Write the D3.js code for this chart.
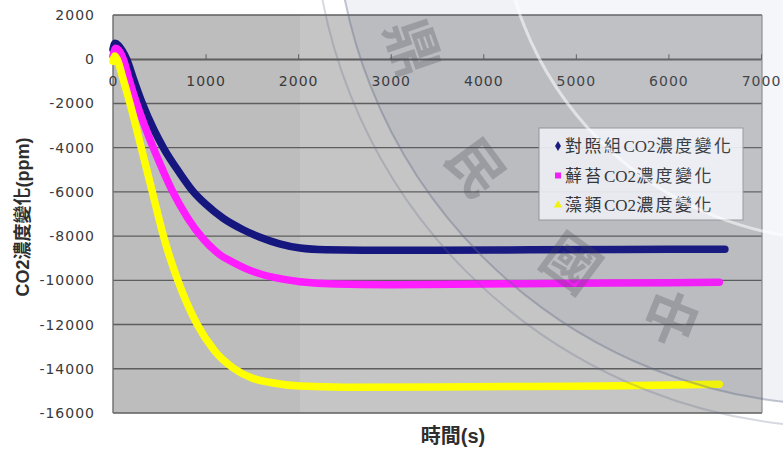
<!DOCTYPE html>
<html>
<head>
<meta charset="utf-8">
<script src="https://cdn.jsdelivr.net/npm/d3@7"></script>
<style>
  html, body { margin: 0; padding: 0; background: #ffffff; }
  svg { display: block; }
</style>
</head>
<body>
<svg id="chart" width="783" height="450"></svg>
<script>
// ---- data: CO2 change (ppm) over time (s) ----
const controlTime = [0, 22, 60, 100, 148, 230, 317, 443, 551, 713, 860, 1000, 1192, 1400, 1588, 1800, 2020, 2300, 2700, 3500, 4500, 5500, 6610];
const controlCO2  = [450, 720, 620, 380, 0, -1000, -2000, -3200, -4050, -5100, -5950, -6550, -7200, -7700, -8050, -8350, -8540, -8620, -8640, -8640, -8620, -8600, -8590];

const mossTime = [0, 30, 60, 112, 180, 256, 346, 425, 515, 634, 810, 980, 1100, 1174, 1250, 1480, 1750, 2020, 2400, 3000, 4000, 5000, 6000, 6550];
const mossCO2  = [150, 500, 420, 0, -1000, -2000, -3050, -3900, -4800, -5900, -7200, -8150, -8650, -8900, -9080, -9550, -9880, -10060, -10170, -10200, -10170, -10130, -10110, -10090];

const algaeTime = [0, 20, 45, 110, 184, 305, 425, 545, 700, 910, 1100, 1310, 1500, 1700, 2020, 2500, 3500, 4500, 5500, 6550];
const algaeCO2  = [-100, 150, 0, -900, -2000, -4000, -6000, -8000, -10000, -12000, -13200, -14000, -14420, -14620, -14780, -14830, -14820, -14800, -14770, -14700];

const seriesNames  = ["對照組CO2濃度變化", "蘚苔CO2濃度變化", "藻類CO2濃度變化"];
const seriesColors = ["#16167f", "#ff1cff", "#ffff00"];
const seriesSymbols = [d3.symbolDiamond, d3.symbolSquare, d3.symbolTriangle];

const xTicks = [0, 1000, 2000, 3000, 4000, 5000, 6000, 7000];
const yTicks = [2000, 0, -2000, -4000, -6000, -8000, -10000, -12000, -14000, -16000];
const xTitle = "時間(s)";
const yTitle = "CO2濃度變化(ppm)";
const sealChars = ["鼎", "民", "國", "中"];

// ---- layout ----
const box = { left: 113, right: 762, top: 15, bottom: 413 };
const svg = d3.select("#chart");

const x = d3.scaleLinear().domain([0, 7000]).range([113, 761]);
const y = d3.scaleLinear().domain([-16000, 2000]).range([box.bottom, box.top]);

const labelFont = "'DejaVu Sans', Verdana, sans-serif";
const cjkBold = "'Liberation Sans', 'Noto Sans CJK TC', sans-serif";
const textColor = "#3a3a3a";

// plot area background (slightly darker band on the left)
svg.append("rect")
  .attr("x", box.left).attr("y", box.top)
  .attr("width", box.right - box.left).attr("height", box.bottom - box.top)
  .attr("fill", "#c5c5c5");
svg.append("rect")
  .attr("x", box.left).attr("y", box.top)
  .attr("width", 300 - box.left).attr("height", box.bottom - box.top)
  .attr("fill", "#bdbdbd");

// horizontal gridlines
svg.append("g").selectAll("line")
  .data(yTicks)
  .join("line")
  .attr("x1", box.left).attr("x2", box.right)
  .attr("y1", d => y(d)).attr("y2", d => y(d))
  .attr("stroke", "#5e5e5e").attr("stroke-width", 1.4);

// frame
svg.append("line")
  .attr("x1", box.left).attr("x2", box.left)
  .attr("y1", box.top).attr("y2", box.bottom)
  .attr("stroke", "#6e6e6e").attr("stroke-width", 1.4);
svg.append("line")
  .attr("x1", box.right).attr("x2", box.right)
  .attr("y1", box.top).attr("y2", box.bottom)
  .attr("stroke", "#8c8c8c").attr("stroke-width", 1.2);

// x axis sits on the zero line, ticks pointing up, labels below
const xAxis = svg.append("g")
  .attr("transform", `translate(0,${y(0)})`)
  .call(d3.axisBottom(x).tickValues(xTicks).tickSizeInner(-5).tickSizeOuter(0)
        .tickPadding(17).tickFormat(d => String(d)));
xAxis.select(".domain").attr("stroke", "#5e5e5e").attr("stroke-width", 1.4);
xAxis.selectAll(".tick line").attr("stroke", "#5e5e5e");
xAxis.selectAll("text")
  .attr("font-family", labelFont).attr("font-size", 14)
  .attr("letter-spacing", 1).attr("fill", textColor);

// y axis labels
const yAxis = svg.append("g")
  .attr("transform", `translate(${box.left},0)`)
  .call(d3.axisLeft(y).tickValues(yTicks).tickSize(0).tickPadding(18)
        .tickFormat(d => String(d)));
yAxis.select(".domain").remove();
yAxis.selectAll("text")
  .attr("font-family", labelFont).attr("font-size", 14)
  .attr("letter-spacing", 1).attr("fill", textColor);

// series (first series underneath, last on top)
const series = [
  { time: controlTime, vals: controlCO2 },
  { time: mossTime, vals: mossCO2 },
  { time: algaeTime, vals: algaeCO2 }
];
const line = d3.line()
  .x(d => x(d[0])).y(d => y(d[1]))
  .curve(d3.curveMonotoneX);

svg.append("g").selectAll("path")
  .data(series)
  .join("path")
  .attr("d", s => line(s.time.map((t, i) => [t, s.vals[i]])))
  .attr("fill", "none")
  .attr("stroke", (s, i) => seriesColors[i])
  .attr("stroke-width", 7.5)
  .attr("stroke-linecap", "round")
  .attr("stroke-linejoin", "round");

// legend
const lg = svg.append("g").attr("transform", "translate(539,128)");
lg.append("rect")
  .attr("width", 204).attr("height", 92)
  .attr("fill", "rgba(250,251,253,0.93)")
  .attr("stroke", "#9a9a9a").attr("stroke-width", 1);
const items = lg.selectAll("g.item")
  .data(seriesNames)
  .join("g").attr("class", "item")
  .attr("transform", (d, i) => `translate(0,${18 + i * 29.5})`);
items.append("path")
  .attr("transform", "translate(19,0)")
  .attr("d", (d, i) => d3.symbol().type(seriesSymbols[i]).size(i === 1 ? 36 : 30)())
  .attr("fill", (d, i) => seriesColors[i]);
const itemText = items.append("text")
  .attr("x", 26).attr("y", 0).attr("dy", "0.36em")
  .attr("font-family", "'Liberation Serif', 'Noto Sans CJK TC', serif")
  .attr("font-size", 17)
  .attr("fill", "#333333");
// CJK runs are set a little looser than the Latin "CO2"
itemText.each(function (name) {
  const t = d3.select(this);
  name.split(/([A-Za-z0-9]+)/).filter(s => s.length).forEach(run => {
    const latin = /^[A-Za-z0-9]+$/.test(run);
    t.append("tspan")
      .attr("letter-spacing", latin ? 0 : 2.5)
      .text(run);
  });
});

// axis titles
svg.append("text")
  .attr("transform", "translate(23,217) rotate(-90)")
  .attr("text-anchor", "middle").attr("dy", "0.36em")
  .attr("font-family", cjkBold).attr("font-weight", "bold").attr("font-size", 18)
  .attr("fill", "#2e2e2e")
  .text(yTitle);
svg.append("text")
  .attr("x", 453).attr("y", 436)
  .attr("text-anchor", "middle").attr("dy", "0.36em")
  .attr("font-family", cjkBold).attr("font-weight", "bold").attr("font-size", 20)
  .attr("fill", "#2e2e2e")
  .text(xTitle);

// faint circular seal drawn over the page
const seal = svg.append("g").attr("pointer-events", "none");
const cx = 840, cy = -100;
const rIn = 340, rOut = 505;
const ringArc = d3.arc().innerRadius(rIn).outerRadius(rOut).startAngle(0).endAngle(2 * Math.PI);
seal.append("circle").attr("cx", cx).attr("cy", cy).attr("r", rIn)
  .attr("fill", "rgba(150,170,210,0.10)");
seal.append("path").attr("transform", `translate(${cx},${cy})`).attr("d", ringArc())
  .attr("fill", "rgba(80,95,140,0.08)");
seal.append("circle").attr("cx", cx).attr("cy", cy).attr("r", rOut)
  .attr("fill", "none").attr("stroke", "rgba(95,105,135,0.38)").attr("stroke-width", 2);
seal.append("circle").attr("cx", cx).attr("cy", cy).attr("r", rOut + 22)
  .attr("fill", "none").attr("stroke", "rgba(95,105,135,0.25)").attr("stroke-width", 2);
seal.append("circle").attr("cx", cx).attr("cy", cy).attr("r", rIn)
  .attr("fill", "none").attr("stroke", "rgba(255,255,255,0.55)").attr("stroke-width", 3);
const charAngles = [161, 143.6, 126.5, 112];
seal.selectAll("text.seal")
  .data(sealChars)
  .join("text").attr("class", "seal")
  .attr("transform", (d, i) => {
    const a = charAngles[i] * Math.PI / 180;
    const px = cx + 452 * Math.cos(a), py = cy + 452 * Math.sin(a);
    return `translate(${px},${py}) rotate(${charAngles[i] - 90})`;
  })
  .attr("text-anchor", "middle").attr("dy", "0.36em")
  .attr("font-family", "'Noto Sans CJK TC', sans-serif").attr("font-weight", "bold")
  .attr("font-size", 56)
  .attr("fill", "rgba(70,70,80,0.27)")
  .text(d => d);
</script>
</body>
</html>
